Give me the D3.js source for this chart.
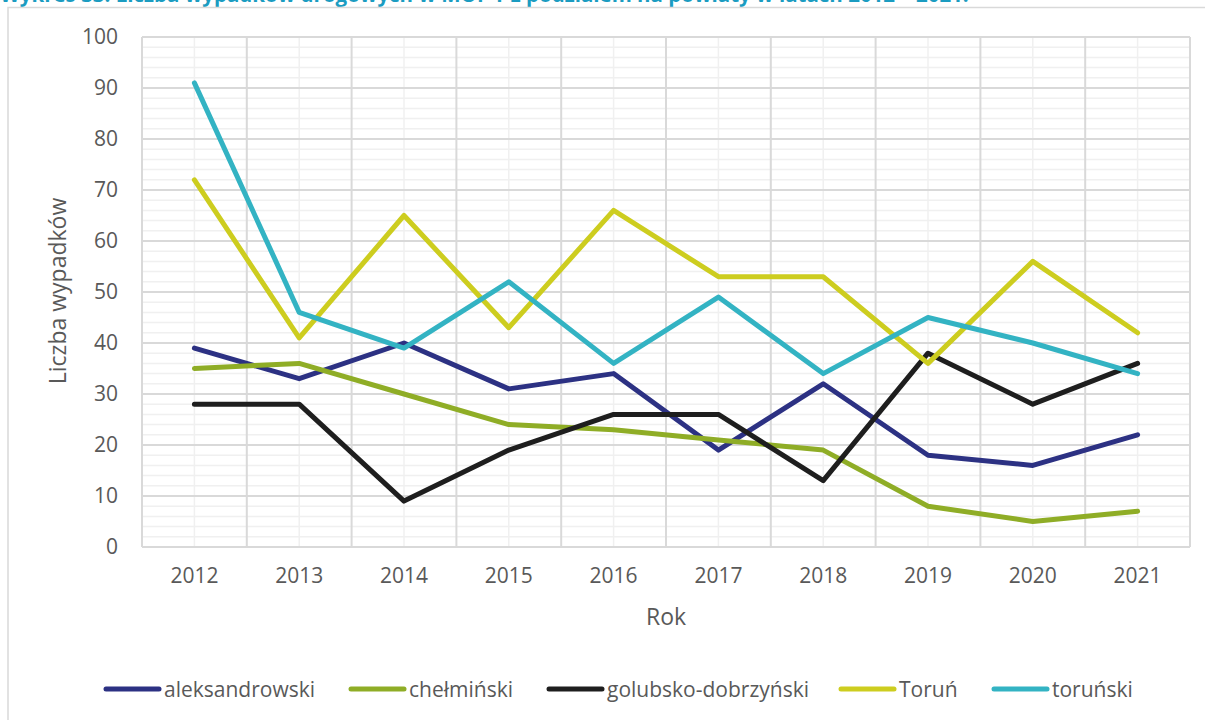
<!DOCTYPE html>
<html lang="pl">
<head>
<meta charset="utf-8">
<script src="https://cdn.jsdelivr.net/npm/d3@7/dist/d3.min.js"></script>
<style>
  html, body { margin: 0; padding: 0; background: #fff; }
  svg { display: block; }
  text { font-family: "Open Sans", "Noto Sans", sans-serif; }
</style>
</head>
<body>
<svg id="chart" width="1205" height="720"></svg>
<script>
// Lata (kategorie osi X)
const years = ["2012", "2013", "2014", "2015", "2016", "2017", "2018", "2019", "2020", "2021"];

// Liczba wypadków drogowych wg powiatów
const aleksandrowski = [39, 33, 40, 31, 34, 19, 32, 18, 16, 22];
const chelminski     = [35, 36, 30, 24, 23, 21, 19, 8, 5, 7];
const golubsko       = [28, 28, 9, 19, 26, 26, 13, 38, 28, 36];
const torun          = [72, 41, 65, 43, 66, 53, 53, 36, 56, 42];
const torunski       = [91, 46, 39, 52, 36, 49, 34, 45, 40, 34];

const seriesNames = ["aleksandrowski", "chełmiński", "golubsko-dobrzyński", "Toruń", "toruński"];
const seriesColors = ["#2c3183", "#8fad26", "#1e1e1e", "#cdcd1f", "#33b3c3"];
const seriesValues = [aleksandrowski, chelminski, golubsko, torun, torunski];

// Ticks of the value axis
const yTicks = [0, 10, 20, 30, 40, 50, 60, 70, 80, 90, 100];

const svg = d3.select("#chart");

// Caption (partly above the visible area)
svg.append("text")
  .attr("x", 0).attr("y", 2)
  .attr("font-size", 20.5).attr("font-weight", 700)
  .attr("fill", "#1b9cc1")
  .text("Wykres 33. Liczba wypadków drogowych w MOF T z podziałem na powiaty w latach 2012 – 2021.");

// Chart frame
svg.append("rect")
  .attr("x", 8).attr("y", 7.5).attr("width", 1210).attr("height", 730)
  .attr("fill", "none").attr("stroke", "#d9d9d9").attr("stroke-width", 1.5);

const plot = { left: 142, right: 1190, top: 37, bottom: 547 };

const x = d3.scaleBand().domain(years).range([plot.left, plot.right]).padding(0);
const y = d3.scaleLinear().domain([0, 100]).range([plot.bottom, plot.top]);

const grid = svg.append("g");

// Minor horizontal gridlines (every 2)
const minor = d3.range(0, 101, 2).filter(v => v % 10 !== 0);
grid.selectAll("line.hmin").data(minor).join("line")
  .attr("x1", plot.left).attr("x2", plot.right)
  .attr("y1", d => y(d)).attr("y2", d => y(d))
  .attr("stroke", "#f0f0f0").attr("stroke-width", 1.5);

// Minor vertical gridlines at category centres
grid.selectAll("line.vmin").data(years).join("line")
  .attr("x1", d => x(d) + x.bandwidth() / 2).attr("x2", d => x(d) + x.bandwidth() / 2)
  .attr("y1", plot.top).attr("y2", plot.bottom)
  .attr("stroke", "#f0f0f0").attr("stroke-width", 1.5);

// Major horizontal gridlines
grid.selectAll("line.hmaj").data(yTicks).join("line")
  .attr("x1", plot.left).attr("x2", plot.right)
  .attr("y1", d => y(d)).attr("y2", d => y(d))
  .attr("stroke", "#d9d9d9").attr("stroke-width", 2);

// Major vertical gridlines at category boundaries
const bounds = years.map(d => x(d)).concat([plot.right]);
grid.selectAll("line.vmaj").data(bounds).join("line")
  .attr("x1", d => d).attr("x2", d => d)
  .attr("y1", plot.top).attr("y2", plot.bottom)
  .attr("stroke", "#d9d9d9").attr("stroke-width", 2);

// Value axis labels
const yAxis = svg.append("g")
  .attr("transform", `translate(${plot.left - 24},0)`)
  .call(d3.axisLeft(y).tickValues(yTicks).tickSize(0).tickPadding(0));
yAxis.select(".domain").remove();
yAxis.selectAll("text")
  .attr("font-family", "Open Sans, sans-serif")
  .attr("font-size", 21).attr("fill", "#595959");

// Category axis labels
const xAxis = svg.append("g")
  .attr("transform", `translate(0,${plot.bottom})`)
  .call(d3.axisBottom(x).tickSize(0).tickPadding(21));
xAxis.select(".domain").remove();
xAxis.selectAll("text")
  .attr("font-family", "Open Sans, sans-serif")
  .attr("font-size", 21).attr("fill", "#595959");

// Axis titles
svg.append("text")
  .attr("x", (plot.left + plot.right) / 2).attr("y", 625)
  .attr("text-anchor", "middle").attr("font-size", 23).attr("fill", "#595959")
  .text("Rok");

svg.append("text")
  .attr("transform", "translate(66,291) rotate(-90)")
  .attr("text-anchor", "middle").attr("font-size", 23).attr("fill", "#595959")
  .text("Liczba wypadków");

// Series lines
const line = d3.line()
  .x((d, i) => x(years[i]) + x.bandwidth() / 2)
  .y(d => y(d));

svg.append("g").selectAll("path").data(seriesValues).join("path")
  .attr("d", d => line(d))
  .attr("fill", "none")
  .attr("stroke", (d, i) => seriesColors[i])
  .attr("stroke-width", 5)
  .attr("stroke-linecap", "round")
  .attr("stroke-linejoin", "round");

// Legend
const legendX = [106, 351, 549, 841, 994];
const legend = svg.append("g").selectAll("g").data(seriesNames).join("g")
  .attr("transform", (d, i) => `translate(${legendX[i]},689)`);
legend.append("line")
  .attr("x1", 0).attr("x2", 53).attr("y1", 0).attr("y2", 0)
  .attr("stroke", (d, i) => seriesColors[i])
  .attr("stroke-width", 5).attr("stroke-linecap", "round");
legend.append("text")
  .attr("x", 58).attr("y", 7.5)
  .attr("font-size", 21).attr("fill", "#595959")
  .text(d => d);
</script>
</body>
</html>
